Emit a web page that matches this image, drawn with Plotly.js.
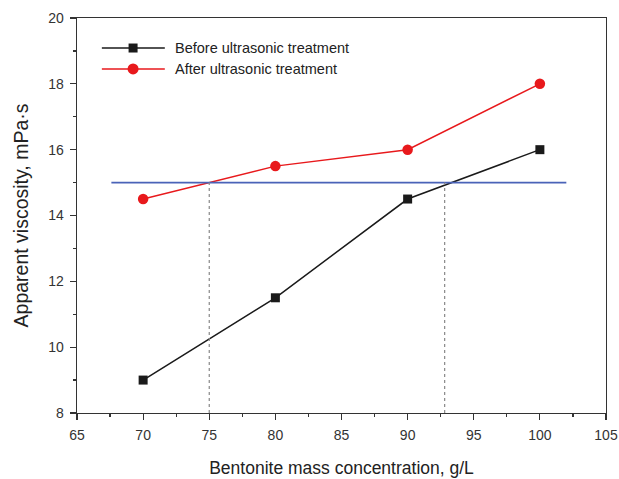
<!DOCTYPE html>
<html><head><meta charset="utf-8">
<script src="https://cdn.plot.ly/plotly-3.0.1.min.js"></script>
<style>html,body{margin:0;padding:0;background:#fff}#chart{width:619px;height:479px}</style>
</head><body><div id="chart"></div>
<script>
const concentration = [70, 80, 90, 100];
const beforeTreatment = [9, 11.5, 14.5, 16];
const afterTreatment = [14.5, 15.5, 16, 18];
const refLevel = 15;
const refLineX = [67.6, 102];
const crossX = [75, 92.8];
const yMin = 8;
const xTicks = [65, 70, 75, 80, 85, 90, 95, 100, 105];
const yTicks = [8, 10, 12, 14, 16, 18, 20];
const seriesNames = ['Before ultrasonic treatment', 'After ultrasonic treatment'];
const seriesColors = ['#1a1a1a', '#e8191c'];

const FONT = 'Liberation Sans, Arial, sans-serif';

const traces = [
  {x: concentration, y: beforeTreatment, mode: 'lines+markers', name: seriesNames[0], showlegend: false,
   line: {color: seriesColors[0], width: 1.5}, marker: {symbol: 'square', size: 9, color: seriesColors[0]}},
  {x: concentration, y: afterTreatment, mode: 'lines+markers', name: seriesNames[1], showlegend: false,
   line: {color: seriesColors[1], width: 1.5}, marker: {symbol: 'circle', size: 10.5, color: seriesColors[1]}},
  {x: refLineX, y: [refLevel, refLevel], mode: 'lines', showlegend: false,
   line: {color: '#4a63b8', width: 1.8}, hoverinfo: 'skip'}
];
crossX.forEach(cx => traces.push({x: [cx, cx], y: [yMin, refLevel], mode: 'lines', showlegend: false,
  line: {color: '#888', width: 1.2, dash: 'dot'}, hoverinfo: 'skip'}));

// legend drawn as shapes + annotations in paper coordinates
const legX0 = 0.047, legX1 = 0.166, legXm = 0.106, legTx = 0.181;
const legY = [0.924, 0.871];
const shapes = [];
const annotations = [];
seriesNames.forEach((nm, i) => {
  shapes.push({type: 'line', xref: 'paper', yref: 'paper', x0: legX0, x1: legX1, y0: legY[i], y1: legY[i],
    line: {color: seriesColors[i], width: 1.5}});
  const s = i === 0 ? 4.5 : 5.5;
  shapes.push({type: i === 0 ? 'rect' : 'circle', xref: 'paper', yref: 'paper',
    xsizemode: 'pixel', ysizemode: 'pixel', xanchor: legXm, yanchor: legY[i],
    x0: -s, x1: s, y0: -s, y1: s, fillcolor: seriesColors[i], line: {width: 0}});
  annotations.push({xref: 'paper', yref: 'paper', x: legTx, y: legY[i], xanchor: 'left', yanchor: 'middle',
    text: nm, showarrow: false, font: {family: FONT, size: 14.5, color: '#222'}});
});

const axisCommon = {showline: true, mirror: true, linecolor: '#333', linewidth: 1.3, showgrid: false,
  zeroline: false, ticks: 'outside', ticklen: 6, tickcolor: '#333', tickwidth: 1.2,
  tickfont: {family: FONT, size: 14, color: '#333'}};

const layout = {
  width: 619, height: 479,
  margin: {l: 77, r: 13, t: 18, b: 66},
  paper_bgcolor: '#fff', plot_bgcolor: '#fff',
  showlegend: false,
  shapes: shapes,
  annotations: annotations,
  xaxis: Object.assign({}, axisCommon, {range: [65, 105], tickvals: xTicks, ticklabelstandoff: 3,
    minor: {dtick: 2.5, ticks: 'outside', ticklen: 3, tickcolor: '#333'},
    title: {text: 'Bentonite mass concentration, g/L', font: {family: FONT, size: 17.5, color: '#222'}, standoff: 19}}),
  yaxis: Object.assign({}, axisCommon, {range: [8, 20], tickvals: yTicks, ticklabelstandoff: 3,
    minor: {dtick: 1, ticks: 'outside', ticklen: 3, tickcolor: '#333'},
    title: {text: 'Apparent viscosity, mPa·s', font: {family: FONT, size: 19.5, color: '#222'}, standoff: 14}})
};
Plotly.newPlot('chart', traces, layout, {displayModeBar: false, staticPlot: true});
</script></body></html>
